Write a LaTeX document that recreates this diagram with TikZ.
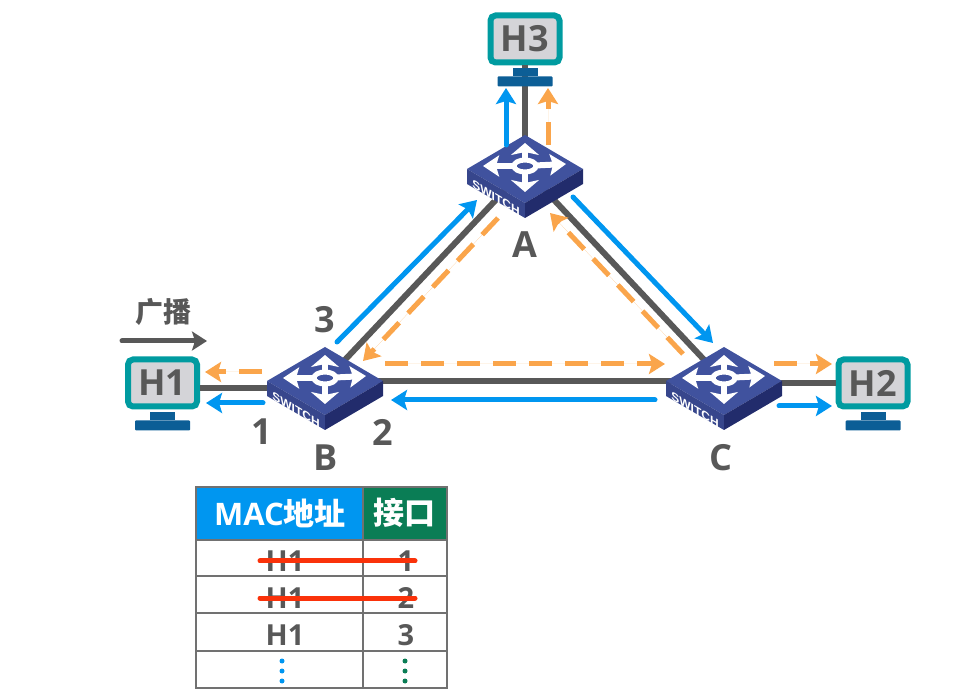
\documentclass[tikz,border=0pt]{standalone}
\usepackage{fontspec}
\setmainfont{Open Sans}
\newfontfamily\cjk{Noto Sans CJK SC}
\newfontfamily\swfont{Liberation Sans}
\usetikzlibrary{arrows.meta}
\definecolor{HostClr}{RGB}{0,155,160}
\definecolor{ScreenClr}{RGB}{212,212,216}
\definecolor{StandClr}{RGB}{12,94,150}
\definecolor{LinkClr}{RGB}{88,88,88}
\definecolor{BlueClr}{RGB}{0,150,240}
\definecolor{OrangeClr}{RGB}{250,165,75}
\definecolor{GreenClr}{RGB}{10,125,85}
\definecolor{StrikeClr}{RGB}{250,50,10}
\definecolor{TopClr}{RGB}{64,82,158}
\definecolor{LeftClr}{RGB}{55,70,140}
\definecolor{RightClr}{RGB}{34,44,108}
\tikzset{
  HostBox/.style={draw=HostClr,line width=6pt,fill=ScreenClr,rounded corners=5pt,minimum width=69pt,minimum height=47pt,inner sep=0pt,text=LinkClr,font=\bfseries\fontsize{36}{38}\selectfont},
  Link/.style={draw=LinkClr,line width=6pt},
  BlueArrow/.style={draw=BlueClr,fill=BlueClr,line width=5pt,line cap=round,-{Stealth[length=16pt,width=20pt,inset=3pt]}},
  OrangeArrow/.style={draw=OrangeClr,fill=OrangeClr,line width=5pt,dash pattern=on 23pt off 13pt,-{Stealth[length=16pt,width=20pt,inset=3pt]}},
  BigLabel/.style={text=LinkClr,inner sep=0pt,font=\bfseries\fontsize{36}{38}\selectfont},
  CellText/.style={text=LinkClr,inner sep=0pt,font=\bfseries\fontsize{29}{31}\selectfont},
  HeadText/.style={text=white,inner sep=0pt,font=\bfseries\fontsize{31}{33}\selectfont},
  Strike/.style={draw=StrikeClr,line width=5pt,line cap=round},
  pics/switchbox/.style={code={
    \fill[TopClr] (0,-34) -- (58,0) -- (0,34) -- (-58,0) -- cycle;
    \fill[LeftClr] (-58,0) -- (0,34) -- (0,49) -- (-58,15) -- cycle;
    \fill[RightClr] (58,0) -- (0,34) -- (0,49) -- (58,15) -- cycle;
    \foreach \tipx/\tipy in {0/-26,0/23}
      \draw[white,line width=6pt,-{Stealth[length=12pt,width=28pt,inset=3pt]}] (0,-3) -- (\tipx,\tipy);
    \foreach \tipx/\tipy in {-42/-3,41/-5}
      \draw[white,line width=6pt,-{Stealth[length=16pt,width=21pt,inset=3pt]}] (0,-3) -- (\tipx,\tipy);
    \draw[white,line width=5pt,fill=TopClr] (0,-3) ellipse [x radius=11pt,y radius=6pt];
    \node[text=white,inner sep=0pt,yslant=-0.6,font=\swfont\bfseries\fontsize{12}{12}\selectfont] at (-29,29) {SWITCH};
  }}
}
\newcommand{\HostStand}[1]{
  \fill[StandClr,shift={(#1.south)}] (-12.5,3) rectangle (12.5,11);
  \fill[StandClr,shift={(#1.south)},rounded corners=1pt] (-27.5,11) rectangle (27.5,21);
}

\begin{document}
\begin{tikzpicture}[x=1pt,y=-1pt]
\useasboundingbox (0,0) rectangle (954,692);

\node[HostBox] (H1) at (162.5,383) {H1};
\node[HostBox] (H2) at (873,383) {H2};
\node[HostBox] (H3) at (525,39) {H3};
\coordinate (A) at (525,169);
\coordinate (B) at (325,381);
\coordinate (C) at (724,381);
\coordinate (Bport) at (267,388);

% links
\draw[Link] (H3.south) -- (A);
\draw[Link] (A) -- (B);
\draw[Link] (A) -- (C);
\draw[Link] (B) -- (C);
\draw[Link] (H1.east |- Bport) -- (Bport);
\draw[Link] (C |- H2.west) -- (H2.west);

\HostStand{H1}
\HostStand{H2}
\HostStand{H3}
\pic at (A) {switchbox};
\pic at (B) {switchbox};
\pic at (C) {switchbox};

\node[BigLabel] (lblA) at (525,245) {A};
\node[BigLabel] (lblB) at (326,458) {B};
\node[BigLabel] (lblC) at (721,458) {C};
\node[BigLabel] (port1) at (262,432) {1};
\node[BigLabel] (port2) at (383,432) {2};
\node[BigLabel] (port3) at (325,320) {3};

% broadcast
\node[text=LinkClr,inner sep=0pt,font=\cjk\bfseries\fontsize{28}{30}\selectfont] (bcast) at (163,312) {广播};
\coordinate (bc1) at (122,341); \coordinate (bc2) at (207,341);
\draw[draw=LinkClr,line width=5pt,line cap=round,-{Stealth[length=15pt,width=19pt,inset=3pt]}] (bc1) -- (bc2);

% blue frames
\coordinate (ah1) at (506,145); \coordinate (ah2) at (506,88);
\draw[BlueArrow] (ah1) -- (ah2);
\coordinate (ba1) at (337,342); \coordinate (ba2) at (477,200);
\draw[BlueArrow] (ba1) -- (ba2);
\coordinate (ac1) at (573,197); \coordinate (ac2) at (713,343);
\draw[BlueArrow] (ac1) -- (ac2);
\coordinate (cb1) at (655,400); \coordinate (cb2) at (391,400);
\draw[BlueArrow] (cb1) -- (cb2);
\coordinate (bh1) at (263,403); \coordinate (bh2) at (206,403);
\draw[BlueArrow] (bh1) -- (bh2);
\coordinate (ch1) at (779,406); \coordinate (ch2) at (832,406);
\draw[BlueArrow] (ch1) -- (ch2);

% orange frames
\coordinate (oah1) at (548,145); \coordinate (oah2) at (548,88);
\draw[OrangeArrow] (oah1) -- (oah2);
\coordinate (oab1) at (498,218); \coordinate (oab2) at (363,361);
\draw[OrangeArrow] (oab1) -- (oab2);
\coordinate (oca1) at (683,354); \coordinate (oca2) at (550,213);
\draw[OrangeArrow] (oca1) -- (oca2);
\coordinate (obc1) at (385,364); \coordinate (obc2) at (665,364);
\draw[OrangeArrow] (obc1) -- (obc2);
\coordinate (obh1) at (262,372); \coordinate (obh2) at (205,372);
\draw[OrangeArrow] (obh1) -- (obh2);
\coordinate (och1) at (774,364); \coordinate (och2) at (832,364);
\draw[OrangeArrow] (och1) -- (och2);

% table
\fill[BlueClr] (196,487) rectangle (363,540);
\fill[GreenClr] (363,487) rectangle (447,540);
\draw[draw=LinkClr!85,line width=2pt] (196,487) rectangle (447,688);
\draw[draw=LinkClr!85,line width=2pt] (363,487) -- (363,688);
\foreach \yy in {540,576,613,651}
  \draw[draw=LinkClr!85,line width=2pt] (196,\yy) -- (447,\yy);
\node[HeadText] (macHead) at (280,513) {MAC{\cjk 地址}};
\node[HeadText] (portHead) at (404,513) {\cjk 接口};
\foreach \nn/\yy/\pp in {1/561/1,2/598/2,3/635/3}{
  \node[CellText] (mac\nn) at (285,\yy) {H1};
  \node[CellText] (if\nn) at (406,\yy) {\pp};
}
\foreach \yy in {661,671,681}{
  \fill[BlueClr] (282,\yy) circle (2.5pt);
  \fill[GreenClr] (405,\yy) circle (2.5pt);
}
\coordinate (st1) at (260,561); \coordinate (st2) at (415,561);
\draw[Strike] (st1) -- (st2);
\coordinate (st3) at (260,598); \coordinate (st4) at (415,598);
\draw[Strike] (st3) -- (st4);
\end{tikzpicture}
\end{document}
